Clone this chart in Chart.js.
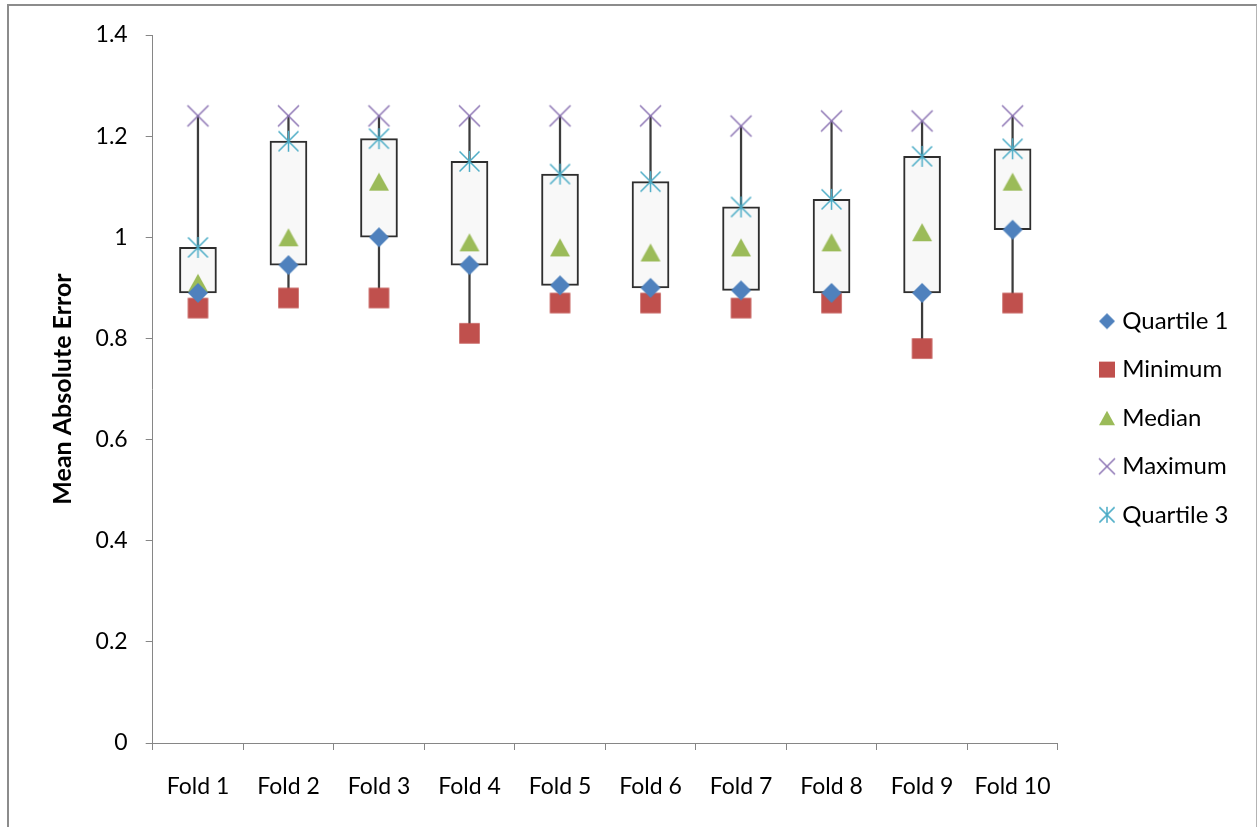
<!DOCTYPE html>
<html>
<head>
<meta charset="utf-8">
<title>Mean Absolute Error per fold</title>
<script src="https://cdn.jsdelivr.net/npm/chart.js@4.4.1/dist/chart.umd.min.js"></script>
<style>
  html, body { margin: 0; padding: 0; background: #ffffff; }
  #wrap { position: relative; width: 1257px; height: 827px; overflow: hidden; }
  #frame {
    position: absolute; left: 7px; top: 4px; width: 1250px; height: 900px;
    box-sizing: border-box; pointer-events: none;
    border-left: 2px solid #8c8c8c; border-top: 2px solid #8c8c8c; border-right: 1px solid #b4b4b4;
  }
  canvas { display: block; }
</style>
</head>
<body>
<div id="wrap">
  <canvas id="chart" width="1257" height="827"></canvas>
  <div id="frame"></div>
</div>
<script>
// Cross-validation folds and the five-number summary of the error per fold
const categories = ['Fold 1', 'Fold 2', 'Fold 3', 'Fold 4', 'Fold 5',
                    'Fold 6', 'Fold 7', 'Fold 8', 'Fold 9', 'Fold 10'];
const quartile1 = [0.89, 0.945, 1.0, 0.945, 0.905, 0.9, 0.895, 0.89, 0.89, 1.015];
const minimum   = [0.86, 0.88, 0.88, 0.81, 0.87, 0.87, 0.86, 0.87, 0.78, 0.87];
const median    = [0.91, 1.0, 1.11, 0.99, 0.98, 0.97, 0.98, 0.99, 1.01, 1.11];
const maximum   = [1.24, 1.24, 1.24, 1.24, 1.24, 1.24, 1.22, 1.23, 1.23, 1.24];
const quartile3 = [0.98, 1.19, 1.195, 1.15, 1.125, 1.11, 1.06, 1.075, 1.16, 1.175];
const yTicks    = [0, 0.2, 0.4, 0.6, 0.8, 1, 1.2, 1.4];

const FONT = 'Lato';
const AXIS_GREY = '#868686';

// Marker glyphs drawn onto small canvases (used as Chart.js point styles)
function marker(kind, size, color) {
  const dim = Math.ceil(size) + 4;
  const c = document.createElement('canvas');
  c.width = dim; c.height = dim;
  const g = c.getContext('2d');
  const m = dim / 2, h = size / 2;
  g.fillStyle = color; g.strokeStyle = color;
  g.lineWidth = 1.5;
  g.beginPath();
  if (kind === 'diamond') {
    g.moveTo(m, m - h); g.lineTo(m + h, m); g.lineTo(m, m + h); g.lineTo(m - h, m);
    g.closePath(); g.fill();
  } else if (kind === 'square') {
    g.fillRect(m - h, m - h, size, size);
  } else if (kind === 'triangle') {
    const hh = size * 0.45;
    g.moveTo(m, m - hh); g.lineTo(m + h, m + hh); g.lineTo(m - h, m + hh);
    g.closePath(); g.fill();
  } else if (kind === 'x') {
    g.moveTo(m - h, m - h); g.lineTo(m + h, m + h);
    g.moveTo(m + h, m - h); g.lineTo(m - h, m + h);
    g.stroke();
  } else if (kind === 'star') {
    const d = h * 0.95;
    g.moveTo(m - d, m - d); g.lineTo(m + d, m + d);
    g.moveTo(m + d, m - d); g.lineTo(m - d, m + d);
    g.moveTo(m, m - h); g.lineTo(m, m + h);
    g.stroke();
  }
  return c;
}

const series = [
  { label: 'Quartile 1', data: quartile1, kind: 'diamond',  color: '#4F81BD', size: 20,   legendSize: 16 },
  { label: 'Minimum',    data: minimum,   kind: 'square',   color: '#C0504D', size: 20.5, legendSize: 16 },
  { label: 'Median',     data: median,    kind: 'triangle', color: '#9BBB59', size: 20,   legendSize: 16 },
  { label: 'Maximum',    data: maximum,   kind: 'x',        color: '#8C74B4', size: 21,   legendSize: 16 },
  { label: 'Quartile 3', data: quartile3, kind: 'star',     color: '#4BACC6', size: 21,   legendSize: 16 }
];

const markerDatasets = series.map(s => ({
  type: 'line',
  label: s.label,
  data: s.data,
  showLine: false,
  pointStyle: marker(s.kind, s.size, s.color),
  pointRadius: 10,
  pointHoverRadius: 10,
  borderColor: s.color,
  backgroundColor: s.color,
  order: 0,
  legendMarker: marker(s.kind, s.legendSize, s.color)
}));

// Box spans the interquartile range; the whisker runs from minimum to maximum behind it
const boxDataset = {
  type: 'bar',
  label: 'box',
  data: quartile1.map((q, i) => [q, quartile3[i]]),
  backgroundColor: '#F8F8F8',
  borderColor: '#2E2E2E',
  borderWidth: 2,
  borderSkipped: false,
  barThickness: 37,
  grouped: false,
  order: 1
};
const whiskerDataset = {
  type: 'bar',
  label: 'whisker',
  data: minimum.map((m, i) => [m, maximum[i]]),
  backgroundColor: '#3C3C3C',
  borderWidth: 0,
  barThickness: 1.6,
  grouped: false,
  order: 2
};

new Chart(document.getElementById('chart'), {
  type: 'bar',
  data: {
    labels: categories,
    datasets: [...markerDatasets, boxDataset, whiskerDataset]
  },
  options: {
    responsive: false,
    animation: false,
    events: [],
    layout: { padding: { left: 10, top: 35, bottom: 26, right: 18.5 } },
    plugins: {
      tooltip: { enabled: false },
      legend: {
        position: 'right',
        align: 'center',
        labels: {
          usePointStyle: true,
          boxWidth: 6.5,
          boxHeight: 6.5,
          padding: 24.4,
          color: '#000000',
          font: { family: FONT, size: 24 },
          generateLabels(chart) {
            return chart.data.datasets
              .map((ds, i) => ({ ds, i }))
              .filter(o => o.ds.legendMarker)
              .map(o => ({
                text: o.ds.label,
                datasetIndex: o.i,
                pointStyle: o.ds.legendMarker,
                fillStyle: o.ds.backgroundColor,
                strokeStyle: o.ds.borderColor,
                lineWidth: 0,
                hidden: false
              }));
          }
        }
      }
    },
    scales: {
      x: {
        offset: true,
        grid: { display: true, drawOnChartArea: false, drawTicks: true, tickLength: 7, color: AXIS_GREY, offset: true },
        border: { display: true, color: AXIS_GREY, width: 1 },
        ticks: { color: '#000000', font: { family: FONT, size: 23 }, padding: 23, maxRotation: 0, autoSkip: false },
        afterFit(scale) { scale.height = 58; }
      },
      y: {
        min: 0,
        max: 1.4,
        grid: { display: true, drawOnChartArea: false, drawTicks: true, tickLength: 7, color: AXIS_GREY },
        border: { display: true, color: AXIS_GREY, width: 1 },
        ticks: { color: '#000000', font: { family: FONT, size: 23 }, padding: 18, callback: v => String(v) },
        afterBuildTicks(scale) { scale.ticks = yTicks.map(v => ({ value: v })); },
        title: {
          display: true,
          text: 'Mean Absolute Error',
          color: '#000000',
          font: { family: FONT, size: 25, weight: 'bold' },
          padding: { top: 38, bottom: 0 }
        },
        afterFit(scale) { scale.width = 142.7; }
      },
      spacer: {
        position: 'right',
        display: true,
        grid: { display: false },
        border: { display: false },
        ticks: { display: false },
        afterFit(scale) { scale.width = 21.5; }
      }
    }
  }
});
</script>
</body>
</html>
